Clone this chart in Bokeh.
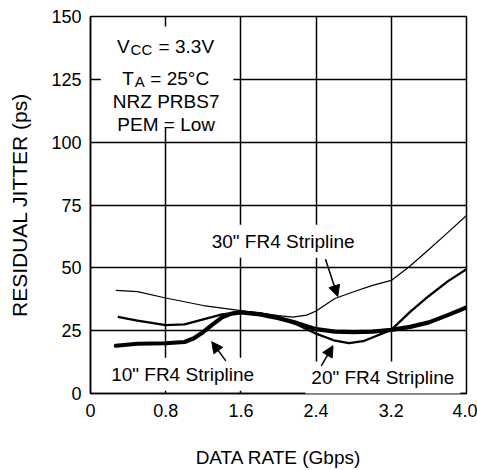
from bokeh.plotting import figure
from bokeh.models import Range1d, FixedTicker, Label, Arrow, NormalHead, BoxAnnotation
from bokeh.embed import file_html
from bokeh.resources import INLINE

FONT = "Liberation Sans"

# ---------------- data ----------------
x_ticks = [0, 0.8, 1.6, 2.4, 3.2, 4.0]
x_tick_labels = ["0", "0.8", "1.6", "2.4", "3.2", "4.0"]
y_ticks = [0, 25, 50, 75, 100, 125, 150]

rate_30 = [0.27, 0.5, 0.8, 1.0, 1.2, 1.4, 1.6, 1.8, 2.0, 2.15, 2.3, 2.4, 2.6, 2.8, 3.0, 3.2, 3.4, 3.6, 3.8, 4.0]
jitter_30 = [41.0, 40.5, 38.0, 36.5, 35.0, 34.0, 33.0, 32.0, 31.0, 30.4, 31.2, 32.8, 37.8, 40.5, 43.0, 45.0, 50.7, 57.3, 64.0, 70.8]

rate_20 = [0.29, 0.5, 0.8, 1.0, 1.2, 1.4, 1.6, 1.8, 2.0, 2.2, 2.4, 2.6, 2.75, 2.9, 3.0, 3.2, 3.4, 3.6, 3.8, 4.0]
jitter_20 = [30.5, 29.0, 27.2, 27.5, 29.5, 31.5, 32.5, 32.0, 30.5, 27.4, 23.8, 21.0, 20.0, 20.8, 22.3, 25.3, 32.5, 38.8, 44.6, 49.5]

rate_10 = [0.27, 0.5, 0.8, 1.0, 1.1, 1.2, 1.3, 1.4, 1.5, 1.6, 1.8, 2.0, 2.2, 2.4, 2.6, 2.8, 3.0, 3.2, 3.4, 3.6, 3.8, 4.0]
jitter_10 = [19.0, 19.8, 20.0, 20.5, 22.0, 24.5, 27.5, 30.3, 31.8, 32.3, 31.5, 30.0, 28.0, 25.6, 24.6, 24.4, 24.6, 25.3, 26.5, 28.3, 31.2, 34.2]

# annotation callouts: text, text position, arrow tail, arrow tip
callout_texts = ['30" FR4 Stripline', '10" FR4 Stripline', '20" FR4 Stripline']
callout_x = [2.05, 0.98, 3.11]
callout_y = [60.6, 7.7, 6.2]
arrow_x0 = [2.50, 1.44, 2.455]
arrow_y0 = [53.4, 13.0, 11.0]
arrow_x1 = [2.63, 1.29, 2.58]
arrow_y1 = [38.6, 20.6, 19.0]

# ---------------- figure ----------------
p = figure(width=477, height=470, output_backend="svg", toolbar_location=None,
           x_range=Range1d(0, 4.0), y_range=Range1d(0, 150),
           min_border_left=90, min_border_right=11, min_border_top=16, min_border_bottom=76)
p.background_fill_color = "white"
p.border_fill_color = "white"
p.outline_line_color = "black"
p.outline_line_width = 1.5

for ax in (p.xaxis[0], p.yaxis[0]):
    ax.axis_line_color = "black"
    ax.axis_line_width = 1.5
    ax.major_tick_in = 0
    ax.major_tick_out = 0
    ax.minor_tick_in = 0
    ax.minor_tick_out = 0
    ax.major_label_text_font = FONT
    ax.major_label_text_font_size = "18px"
    ax.major_label_text_color = "black"
    ax.axis_label_text_font = FONT
    ax.axis_label_text_font_style = "normal"
    ax.axis_label_text_color = "black"

p.xaxis.ticker = FixedTicker(ticks=x_ticks)
p.xaxis.major_label_overrides = {t: l for t, l in zip(x_ticks, x_tick_labels)}
p.yaxis.ticker = FixedTicker(ticks=y_ticks)
p.xaxis.axis_label = "DATA RATE (Gbps)"
p.yaxis.axis_label = "RESIDUAL JITTER (ps)"
p.xaxis.axis_label_text_font_size = "19px"
p.yaxis.axis_label_text_font_size = "21px"
p.xaxis.major_label_standoff = 10
p.xaxis.axis_label_standoff = 27
p.yaxis.major_label_standoff = 9
p.yaxis.axis_label_standoff = 17

p.xgrid.grid_line_color = "black"
p.xgrid.grid_line_width = 1.5
p.ygrid.grid_line_color = "black"
p.ygrid.grid_line_width = 1.5

# curves
p.line(rate_30, jitter_30, line_color="black", line_width=1.2, line_join="round")
p.line(rate_20, jitter_20, line_color="black", line_width=2.3, line_join="round")
p.line(rate_10, jitter_10, line_color="black", line_width=4.2, line_join="round", line_cap="round")

# white box behind conditions
p.add_layout(BoxAnnotation(left=0.11, right=1.52, bottom=106, top=146,
                           fill_color="white", fill_alpha=1.0, line_alpha=0))

def lab(x, y, text, size="19px", align="left", baseline="alphabetic", xo=0, yo=0, bg=None, pad=0):
    kw = dict(x=x, y=y, text=text, x_offset=xo, y_offset=yo,
              text_font=FONT, text_font_size=size, text_color="black",
              text_align=align, text_baseline=baseline)
    if bg is not None:
        kw.update(background_fill_color=bg, background_fill_alpha=1.0, padding=pad)
    p.add_layout(Label(**kw))

# condition texts
lab(0.283, 138.0, "V")
lab(0.283, 138.0, "CC", size="15px", xo=13.5, yo=-3)
lab(0.283, 138.0, "= 3.3V", xo=41.5)
lab(0.339, 125.5, "T")
lab(0.339, 125.5, "A", size="15px", xo=12.5, yo=-3.4)
lab(0.339, 125.5, "= 25°C", xo=28)
lab(0.805, 116.2, "NRZ PRBS7", align="center")
lab(0.805, 106.9, "PEM = Low", align="center")

# callouts
for t, tx, ty in zip(callout_texts, callout_x, callout_y):
    lab(tx, ty, t, align="center", baseline="middle", bg="white", pad=6)

for xs, ys, xe, ye in zip(arrow_x0, arrow_y0, arrow_x1, arrow_y1):
    p.add_layout(Arrow(end=NormalHead(size=11, fill_color="black", line_color="black", line_width=1),
                       x_start=xs, y_start=ys, x_end=xe, y_end=ye,
                       line_color="black", line_width=1.5))

open("out.html", "w").write(file_html(p, INLINE))
